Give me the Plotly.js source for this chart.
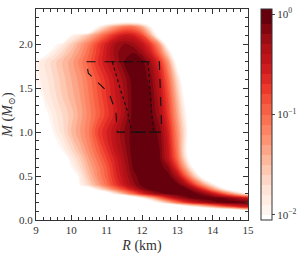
<!DOCTYPE html>
<html>
<head>
<meta charset="utf-8">
<script src="https://cdn.plot.ly/plotly-3.0.1.min.js"></script>
<style>html,body{margin:0;padding:0;background:#fff;}#chart{width:306px;height:254px;}</style>
</head>
<body>
<div id="chart"></div>
<script>
// Radius grid (km) and mass grid (solar masses)
const radiusGrid = [9.0, 9.25, 9.5, 9.75, 10.0, 10.25, 10.5, 10.75, 11.0, 11.25, 11.5, 11.75, 12.0,
                    12.25, 12.5, 12.75, 13.0, 13.25, 13.5, 13.75, 14.0, 14.25, 14.5, 14.75, 15.0];
const massGrid = [0.0, 0.1, 0.15, 0.2, 0.25, 0.3, 0.35, 0.4, 0.5, 0.6, 0.7, 0.8, 1.0, 1.2, 1.4, 1.6,
                  1.8, 1.9, 2.0, 2.1, 2.2, 2.3, 2.4];
// log10 of the normalised probability density, one row per mass value (-3 = outside, blank)
const logDensity = [
  [-3,-3,-3,-3,-3,-3,-3,-3,-3,-3,-3,-3,-3,-3,-3,-3,-3,-3,-3,-3,-3,-3,-3,-3,-3],
  [-3,-3,-3,-3,-3,-3,-3,-3,-3,-3,-3,-3,-3,-3,-3,-3,-3,-3,-3,-3,-3,-3,-3,-2.6,-2.3],
  [-3,-3,-3,-3,-3,-3,-3,-3,-3,-3,-3,-3,-3,-3,-3,-3,-2.6,-2.3,-2.0,-1.7,-1.4,-1.1,-0.85,-0.65,-0.5],
  [-3,-3,-3,-3,-3,-3,-3,-3,-3,-3,-3,-3,-2.8,-2.3,-1.85,-1.45,-1.05,-0.7,-0.45,-0.3,-0.15,-0.05,0,0,-0.02],
  [-3,-3,-3,-3,-3,-3,-3,-3,-3,-3,-3,-2.4,-1.95,-1.5,-1.05,-0.65,-0.35,-0.15,-0.05,0,-0.02,-0.08,-0.2,-0.35,-0.5],
  [-3,-3,-3,-3,-3,-3,-3,-3,-2.3,-1.8,-1.4,-1.0,-0.65,-0.35,-0.15,-0.05,-0.02,0,-0.05,-0.2,-0.45,-0.8,-1.2,-1.6,-1.95],
  [-3,-3,-3,-3,-3,-3,-2.3,-1.8,-1.45,-1.1,-0.8,-0.5,-0.2,-0.05,0,0,0,-0.05,-0.3,-0.7,-1.2,-1.7,-2.2,-2.6,-3],
  [-3,-3,-3,-3,-3,-1.95,-1.65,-1.35,-1.05,-0.75,-0.5,-0.25,-0.05,0,0,0,-0.05,-0.3,-0.8,-1.3,-1.8,-2.4,-3,-3,-3],
  [-3,-3,-3,-3,-2.4,-1.85,-1.5,-1.2,-0.95,-0.65,-0.4,-0.15,-0.02,0,0,-0.05,-0.35,-0.95,-1.6,-2.3,-3,-3,-3,-3,-3],
  [-3,-3,-3,-2.8,-2.0,-1.7,-1.4,-1.15,-0.9,-0.6,-0.35,-0.08,0,0,-0.02,-0.2,-0.75,-1.45,-2.2,-2.9,-3,-3,-3,-3,-3],
  [-3,-3,-3,-2.3,-1.85,-1.6,-1.3,-1.05,-0.8,-0.55,-0.3,-0.05,0,0,-0.08,-0.45,-1.0,-1.8,-2.8,-3,-3,-3,-3,-3,-3],
  [-3,-3,-2.6,-1.95,-1.7,-1.45,-1.2,-0.95,-0.7,-0.45,-0.25,-0.03,0,0,-0.1,-0.5,-1.1,-1.95,-3,-3,-3,-3,-3,-3,-3],
  [-3,-2.5,-1.95,-1.75,-1.5,-1.3,-1.1,-0.8,-0.6,-0.4,-0.2,-0.03,0,0,-0.15,-0.6,-1.2,-1.85,-3,-3,-3,-3,-3,-3,-3],
  [-3,-2.1,-1.85,-1.7,-1.55,-1.35,-1.15,-0.95,-0.75,-0.55,-0.3,-0.05,0,-0.05,-0.3,-0.75,-1.35,-2.0,-3,-3,-3,-3,-3,-3,-3],
  [-2.3,-1.9,-1.75,-1.6,-1.45,-1.3,-1.1,-0.9,-0.7,-0.5,-0.3,-0.05,0,-0.08,-0.4,-0.85,-1.5,-2.2,-3,-3,-3,-3,-3,-3,-3],
  [-1.95,-1.85,-1.7,-1.55,-1.4,-1.25,-1.05,-0.85,-0.65,-0.45,-0.25,-0.03,-0.02,-0.15,-0.5,-1.0,-1.7,-2.5,-3,-3,-3,-3,-3,-3,-3],
  [-1.95,-1.8,-1.65,-1.5,-1.35,-1.15,-0.95,-0.7,-0.5,-0.3,-0.1,-0.03,-0.05,-0.3,-0.7,-1.3,-2.2,-3,-3,-3,-3,-3,-3,-3,-3],
  [-2.4,-2.1,-1.85,-1.65,-1.45,-1.25,-1.0,-0.75,-0.5,-0.25,-0.1,-0.1,-0.25,-0.55,-1.0,-1.7,-2.6,-3,-3,-3,-3,-3,-3,-3,-3],
  [-3,-3,-2.1,-1.85,-1.6,-1.35,-1.1,-0.8,-0.55,-0.3,-0.2,-0.25,-0.45,-0.75,-1.3,-2.3,-3,-3,-3,-3,-3,-3,-3,-3,-3],
  [-3,-3,-3,-3,-1.95,-1.75,-1.5,-1.2,-0.9,-0.65,-0.5,-0.55,-0.8,-1.4,-2.3,-3,-3,-3,-3,-3,-3,-3,-3,-3,-3],
  [-3,-3,-3,-3,-3,-3,-3,-2.0,-1.6,-1.3,-1.1,-1.1,-1.4,-2.0,-3,-3,-3,-3,-3,-3,-3,-3,-3,-3,-3],
  [-3,-3,-3,-3,-3,-3,-3,-3,-3,-3,-3,-3,-3,-3,-3,-3,-3,-3,-3,-3,-3,-3,-3,-3,-3],
  [-3,-3,-3,-3,-3,-3,-3,-3,-3,-3,-3,-3,-3,-3,-3,-3,-3,-3,-3,-3,-3,-3,-3,-3,-3]
];
// Constraint regions (dashed outer, dotted inner)
const outerR = [10.43, 12.49, 12.56, 11.30, 11.26, 11.07, 10.48, 10.43];
const outerM = [1.80, 1.80, 1.00, 1.00, 1.23, 1.44, 1.67, 1.80];
const innerR = [11.16, 12.17, 12.26, 12.33, 11.71, 11.58, 11.39, 11.16];
const innerM = [1.80, 1.80, 1.29, 1.00, 1.00, 1.25, 1.48, 1.80];
const cbTickVals = [-2, -1, 0];
const cbTickText = ['10<sup>−2</sup>', '10<sup>−1</sup>', '10<sup>0</sup>'];

const font = 'Liberation Serif, DejaVu Serif, serif';
const colorscale = [
  [0, '#ffffff'],
  [0.0476, '#fff5f0'], [0.1607, '#fee0d2'], [0.2738, '#fcbba1'], [0.3869, '#fc9272'],
  [0.5, '#fb6a4a'], [0.6131, '#ef3b2c'], [0.7262, '#cb181d'], [0.8393, '#a50f15'],
  [0.9524, '#67000d'], [1, '#67000d']
];

const traces = [
  {
    type: 'contour', x: radiusGrid, y: massGrid, z: logDensity,
    autocontour: false,
    contours: {start: -2, end: 0, size: 0.1, coloring: 'fill', showlines: false},
    line: {width: 0},
    colorscale: colorscale,
    hoverinfo: 'skip',
    colorbar: {
      x: 1.059, xanchor: 'left', y: 0.5, yanchor: 'middle', len: 1, lenmode: 'fraction',
      thickness: 11, thicknessmode: 'pixels', outlinewidth: 1, outlinecolor: '#333',
      tickvals: cbTickVals, ticktext: cbTickText, ticks: 'outside', ticklen: 3,
      tickfont: {family: font, size: 11, color: '#333'}, xpad: 0, ypad: 0
    }
  },
  {
    type: 'scatter', mode: 'lines', x: outerR, y: outerM,
    line: {color: '#111', width: 1.1, dash: 'dash'}, hoverinfo: 'skip', showlegend: false
  },
  {
    type: 'scatter', mode: 'lines', x: innerR, y: innerM,
    line: {color: '#111', width: 1.1, dash: 'dot'}, hoverinfo: 'skip', showlegend: false
  }
];

const axisCommon = {
  showgrid: false, zeroline: false, showline: true, linecolor: '#333', linewidth: 1,
  mirror: 'ticks', ticks: 'inside', ticklen: 5, tickcolor: '#333', tickwidth: 1,
  tickfont: {family: font, size: 11, color: '#333'}
};

const layout = {
  width: 306, height: 254,
  margin: {l: 36, r: 51, t: 9, b: 34},
  paper_bgcolor: '#fff', plot_bgcolor: '#fff',
  showlegend: false,
  xaxis: Object.assign({}, axisCommon, {
    range: [9, 15], tickvals: [9, 10, 11, 12, 13, 14, 15],
    minor: {dtick: 0.2, ticks: 'inside', ticklen: 3, tickcolor: '#333'},
    title: {text: '<i>R</i> (km)', font: {family: font, size: 14, color: '#333'}, standoff: 4}
  }),
  yaxis: Object.assign({}, axisCommon, {
    range: [0, 2.4], tickvals: [0, 0.5, 1.0, 1.5, 2.0], tickformat: '.1f',
    minor: {dtick: 0.1, ticks: 'inside', ticklen: 3, tickcolor: '#333'},
    title: {text: '<i>M</i> (<i>M</i><sub>⊙</sub>)', font: {family: font, size: 14, color: '#333'}, standoff: 4}
  })
};

Plotly.newPlot('chart', traces, layout, {displayModeBar: false, staticPlot: true});
</script>
</body>
</html>
